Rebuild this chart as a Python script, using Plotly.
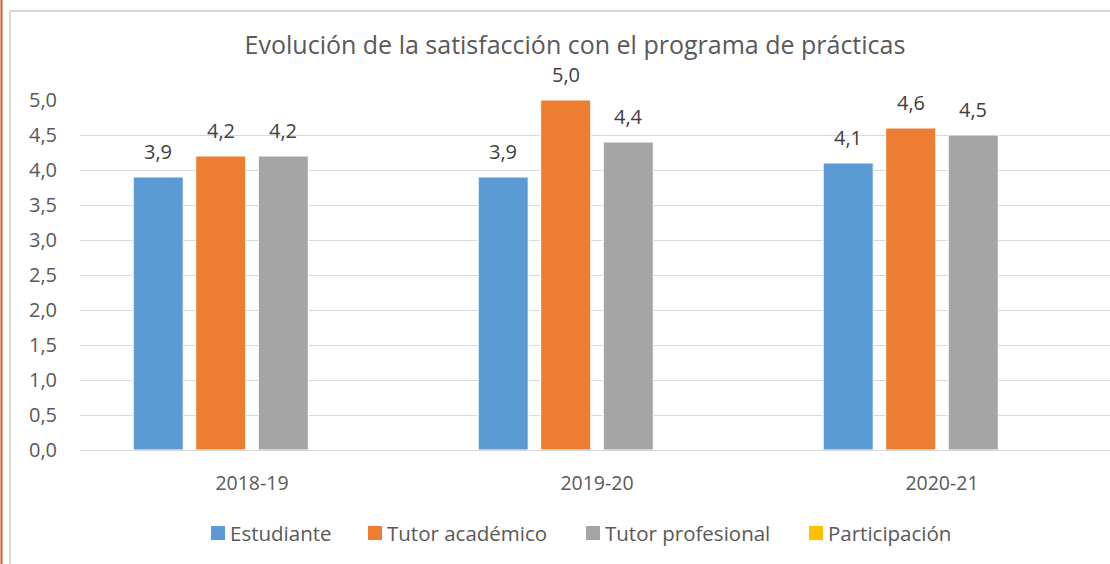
import plotly.graph_objects as go

categories = ["2018-19", "2019-20", "2020-21"]
estudiante = [3.9, 3.9, 4.1]
tutor_academico = [4.2, 5.0, 4.6]
tutor_profesional = [4.2, 4.4, 4.5]
participacion = [None, None, None]
series_names = ["Estudiante", "Tutor académico", "Tutor profesional", "Participación"]
y_ticks = [0, 0.5, 1, 1.5, 2, 2.5, 3, 3.5, 4, 4.5, 5]

colors = ["#5B9BD5", "#ED7D31", "#A5A5A5", "#FFC000"]
FONT = "Open Sans, Noto Sans, sans-serif"
TXT = "#595959"

W, H = 1110, 564
L, R, T, B = 80, 0, 100, 114
SLOT_PX = 62.5

all_series = [estudiante, tutor_academico, tutor_profesional, participacion]

fig = go.Figure()
for name, vals, col in zip(series_names, all_series, colors):
    fig.add_trace(go.Bar(
        name=name, x=categories, y=vals,
        marker=dict(color=col, line=dict(color="white", width=1)),
        cliponaxis=False, showlegend=False,
    ))

# data labels
n = len(all_series)
for i, vals in enumerate(all_series):
    for cat, v in zip(categories, vals):
        if v is None:
            continue
        fig.add_annotation(
            x=cat, y=v, xref="x", yref="y",
            text=f"{v:.1f}".replace(".", ","),
            showarrow=False, xanchor="center", yanchor="middle",
            xshift=(i - (n - 1) / 2) * SLOT_PX, yshift=26,
            font=dict(size=20, color="#404040", family=FONT),
        )

pw = W - L - R
ph = H - T - B
def px(x):
    return (x - L) / pw
def py(y):
    return (H - B - y) / ph

# legend (drawn to match the original's compact spacing)
legend_x = [211, 368, 586, 809]
legend_y = 533
for name, col, lx in zip(series_names, colors, legend_x):
    fig.add_shape(type="rect", xref="paper", yref="paper",
                  x0=px(lx), x1=px(lx + 14), y0=py(legend_y + 7), y1=py(legend_y - 7),
                  line=dict(width=0), fillcolor=col)
    fig.add_annotation(x=px(lx + 17), y=py(legend_y), xref="paper", yref="paper",
                       text=name, showarrow=False, xanchor="left", yanchor="middle",
                       font=dict(size=20.5, color=TXT, family=FONT))

fig.update_layout(
    width=W, height=H,
    margin=dict(l=L, r=R, t=T, b=B, pad=0),
    paper_bgcolor="white", plot_bgcolor="white",
    separators=",.",
    barmode="group", bargap=0.275, bargroupgap=0.2,
    title=dict(text="Evolución de la satisfacción con el programa de prácticas",
               x=575 / W, xanchor="center", y=1 - 45 / H, yanchor="middle",
               font=dict(size=25, color=TXT, family=FONT)),
    font=dict(family=FONT, color=TXT, size=18),
    xaxis=dict(range=[-0.4986, 2.487], showgrid=False, showline=False, ticks="",
               ticklabelstandoff=19,
               tickfont=dict(size=19.5, color=TXT)),
    yaxis=dict(range=[0, 5], tickvals=y_ticks, tickformat=".1f",
               showgrid=True, gridcolor="#D9D9D9", gridwidth=1.3,
               zeroline=True, zerolinecolor="#D9D9D9", zerolinewidth=1.3,
               showline=False, ticks="", ticklabelstandoff=22,
               tickfont=dict(size=20, color=TXT)),
    showlegend=False,
)

fig.add_shape(type="rect", xref="paper", yref="paper",
              x0=px(10), x1=px(1125), y0=py(11), y1=py(580),
              line=dict(color="#D9D9D9", width=2), fillcolor="rgba(0,0,0,0)", layer="below")
fig.add_shape(type="line", xref="paper", yref="paper",
              x0=px(1.5), x1=px(1.5), y0=py(-5), y1=py(570),
              line=dict(color="#C8611C", width=2))

fig.write_html("out.html", config={"displayModeBar": False},
               post_script="document.body.style.margin='0';document.body.style.overflow='hidden';")
